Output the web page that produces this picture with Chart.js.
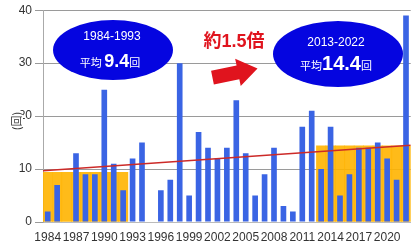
<!DOCTYPE html>
<html lang="ja">
<head>
<meta charset="UTF-8">
<title>回数の推移</title>
<script src="https://cdn.jsdelivr.net/npm/chart.js"></script>
<style>
    html, body { margin: 0; padding: 0; background: #fff; }
    #wrap { width: 414px; height: 247px; }
</style>
</head>
<body>
<div id="wrap"><canvas id="chart"></canvas></div>
<script>
// yearly counts
const years = [1984, 1985, 1986, 1987, 1988, 1989, 1990, 1991, 1992, 1993,
               1994, 1995, 1996, 1997, 1998, 1999, 2000, 2001, 2002, 2003,
               2004, 2005, 2006, 2007, 2008, 2009, 2010, 2011, 2012, 2013,
               2014, 2015, 2016, 2017, 2018, 2019, 2020, 2021, 2022];
const counts = [2, 7, 0, 13, 9, 9, 25, 11, 6, 12,
                15, 0, 6, 8, 30, 5, 17, 14, 12, 14,
                23, 13, 5, 9, 14, 3, 2, 18, 21, 10,
                18, 5, 9, 14, 14, 15, 12, 8, 39];
const tickYears = [1984, 1987, 1990, 1993, 1996, 1999, 2002, 2005, 2008, 2011, 2014, 2017, 2020];
const yTicks = [0, 10, 20, 30, 40];

// shaded averages
const earlyShade = [1984, 1992];
const earlyAverage = 9.4;
const lateShade = [2013, 2022];
const lateAverage = 14.4;

// trend line, read at the plot edges
const trendYears = [1983.5, 2022.5];
const trendValues = [9.7, 14.5];

const shade = years.map(function (y) {
    if (y >= earlyShade[0] && y <= earlyShade[1]) return earlyAverage;
    if (y >= lateShade[0] && y <= lateShade[1]) return lateAverage;
    return null;
});

const LATIN = "'Liberation Sans', Arial, sans-serif";
const JP = "'Noto Sans CJK JP', sans-serif";

// draw mixed-size text runs centred on cx
function drawRuns(ctx, runs, cx, baseline) {
    let total = 0;
    runs.forEach(function (r) { ctx.font = r.font; r.w = ctx.measureText(r.text).width; total += r.w; });
    let x = cx - total / 2;
    ctx.textAlign = 'left';
    ctx.textBaseline = 'alphabetic';
    runs.forEach(function (r) { ctx.font = r.font; ctx.fillText(r.text, x, baseline); x += r.w; });
}

const annotations = {
    id: 'annotations',
    afterDraw(chart) {
        const ctx = chart.ctx;
        ctx.save();

        // blue ovals
        ctx.fillStyle = '#0505e0';
        ctx.beginPath();
        ctx.ellipse(113, 50, 60, 30, 0, 0, Math.PI * 2);
        ctx.fill();
        ctx.beginPath();
        ctx.ellipse(338, 54, 65, 33, 0, 0, Math.PI * 2);
        ctx.fill();

        ctx.fillStyle = '#fff';
        ctx.textAlign = 'center';
        ctx.textBaseline = 'middle';
        ctx.font = '12px ' + LATIN;
        ctx.fillText('1984-1993', 112, 37);
        ctx.fillText('2013-2022', 336, 43);
        drawRuns(ctx, [
            {text: '平均 ', font: '11px ' + JP},
            {text: '9.4', font: 'bold 18px ' + LATIN},
            {text: '回', font: '11px ' + JP}
        ], 110, 67);
        drawRuns(ctx, [
            {text: '平均', font: '11px ' + JP},
            {text: '14.4', font: 'bold 20px ' + LATIN},
            {text: '回', font: '11px ' + JP}
        ], 336, 70);

        // red label and arrow
        ctx.fillStyle = '#e0141e';
        drawRuns(ctx, [
            {text: '約', font: 'bold 18px ' + JP},
            {text: '1.5', font: 'bold 18px ' + LATIN},
            {text: '倍', font: 'bold 18px ' + JP}
        ], 234, 47);

        ctx.translate(235, 73);
        ctx.rotate(-0.2);
        ctx.beginPath();
        ctx.moveTo(-23, -7);
        ctx.lineTo(3, -7);
        ctx.lineTo(3, -14);
        ctx.lineTo(23, 0);
        ctx.lineTo(3, 14);
        ctx.lineTo(3, 7);
        ctx.lineTo(-23, 7);
        ctx.closePath();
        ctx.fill();
        ctx.setTransform(1, 0, 0, 1, 0, 0);

        // y axis unit
        ctx.translate(17, 121);
        ctx.rotate(-Math.PI / 2);
        ctx.fillStyle = '#fff';
        ctx.fillRect(-10, -6, 20, 12);
        ctx.fillStyle = '#333';
        ctx.font = '11px ' + JP;
        ctx.textAlign = 'center';
        ctx.textBaseline = 'middle';
        ctx.fillText('(回)', 0, 0);
        ctx.restore();
    }
};

new Chart(document.getElementById('chart'), {
    type: 'bar',
    data: {
        labels: years,
        datasets: [
            {
                type: 'line',
                data: trendYears.map(function (y, i) { return {x: y, y: trendValues[i]}; }),
                xAxisID: 'xt',
                borderColor: '#cc2a28',
                borderWidth: 1.5,
                pointRadius: 0,
                order: 0
            },
            {
                data: counts,
                backgroundColor: '#3a64e4',
                barPercentage: 0.6,
                categoryPercentage: 1,
                grouped: false,
                order: 1
            },
            {
                data: shade,
                backgroundColor: 'rgba(255, 180, 0, 0.9)',
                barPercentage: 1,
                categoryPercentage: 1,
                grouped: false,
                order: 2
            }
        ]
    },
    options: {
        responsive: true,
        maintainAspectRatio: false,
        animation: false,
        layout: { padding: { top: 10, right: 0, left: 0, bottom: 0 } },
        plugins: { legend: { display: false }, tooltip: { enabled: false } },
        scales: {
            x: {
                grid: { display: false, drawTicks: false },
                border: { display: true, color: '#bbb' },
                afterFit: function (scale) { scale.height = 25; },
                ticks: {
                    autoSkip: false,
                    maxRotation: 0,
                    padding: 8,
                    color: '#333',
                    font: { family: LATIN, size: 12 },
                    callback: function (v, i) {
                        return tickYears.indexOf(years[i]) >= 0 ? String(years[i]) : '';
                    }
                }
            },
            xt: {
                type: 'linear',
                display: false,
                offset: false,
                min: trendYears[0],
                max: trendYears[1]
            },
            y: {
                min: yTicks[0],
                max: yTicks[yTicks.length - 1],
                afterFit: function (scale) { scale.width = 43; },
                afterBuildTicks: function (scale) { scale.ticks = yTicks.map(function (v) { return {value: v}; }); },
                grid: { color: '#9a9a9a', tickLength: 8 },
                border: { color: '#aaa' },
                ticks: {
                    padding: 3,
                    color: '#333',
                    font: { family: LATIN, size: 12 }
                }
            }
        }
    },
    plugins: [annotations]
});
</script>
</body>
</html>
